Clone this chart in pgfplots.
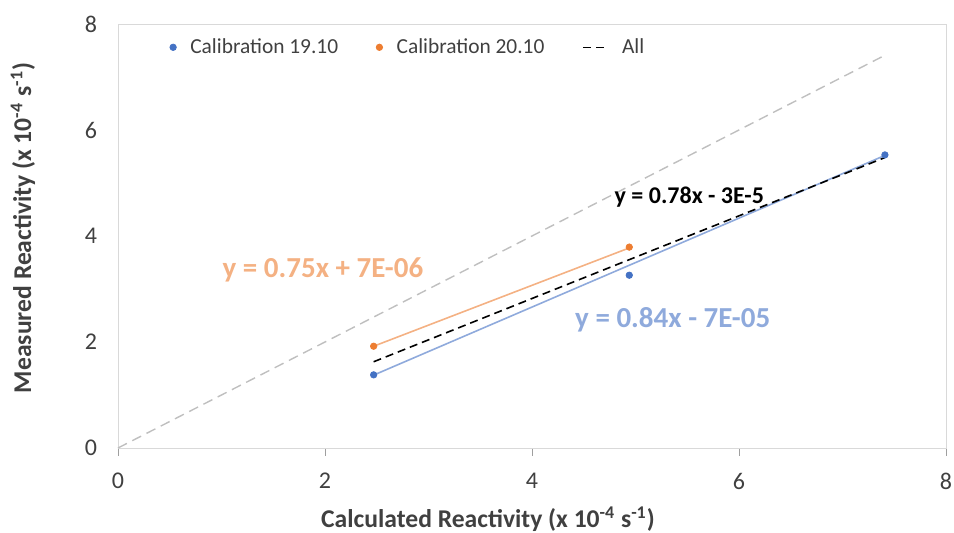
\documentclass[border=0pt]{standalone}
\usepackage{fontspec}
\setmainfont{Carlito}
\usepackage{pgfplots}
\pgfplotsset{compat=1.18}

\definecolor{calA}{HTML}{4472C4}
\definecolor{calB}{HTML}{ED7D31}
\definecolor{fitA}{HTML}{8FAADC}
\definecolor{fitB}{HTML}{F4B183}
\definecolor{ident}{HTML}{BFBFBF}
\definecolor{txt}{HTML}{404040}

\begin{document}
\begin{tikzpicture}
\begin{axis}[
    scale only axis,
    width=414pt, height=212pt,
    xmin=0, xmax=8, ymin=0, ymax=8,
    xtick={0,2,4,6,8}, ytick={0,2,4,6,8},
    axis x line*=bottom, axis y line*=left,
    x axis line style={-, gray!75},
    y axis line style={-, gray!40},
    tick align=outside,
    major tick length=4pt,
    xtick style={gray!75},
    ytick style={draw=none},
    /pgf/number format/assume math mode=true,
    tick label style={font=\fontsize{12}{14}\selectfont, text=txt},
    xticklabel style={yshift=-5pt},
    yticklabel style={xshift=-3pt},
    xlabel={\textbf{Calculated Reactivity (x 10\textsuperscript{-4} s\textsuperscript{-1})}},
    ylabel={\textbf{Measured Reactivity (x 10\textsuperscript{-4} s\textsuperscript{-1})}},
    label style={font=\fontsize{12.8}{14}\selectfont, text=txt},
    xlabel style={yshift=-2pt, xshift=-22pt},
    ylabel style={yshift=18pt, xshift=4pt},
    legend columns=3,
    legend style={draw=none, fill=none, at={(0.055,0.945)}, anchor=west,
        font=\fontsize{10.7}{13}\selectfont, text=txt,
        /tikz/every odd column/.append style={column sep=5pt},
        /tikz/every even column/.append style={column sep=17pt}},
    legend cell align=left,
    clip=false,
]
\coordinate (origin) at (rel axis cs:0,0);
% plot area border
\draw[gray!30] (rel axis cs:0,0) rectangle (rel axis cs:1,1);

% identity line
\addplot[ident, dash pattern=on 5pt off 3pt, line width=0.7pt, forget plot]
    coordinates {(0,0) (7.41,7.41)};

% trend lines
\addplot[fitA, line width=0.8pt, forget plot] coordinates {(2.47,1.375) (7.41,5.52)};
\addplot[fitB, line width=0.8pt, forget plot] coordinates {(2.47,1.92) (4.94,3.775)};

% data
\addplot[only marks, mark=*, mark size=1.6pt, calA] coordinates {
    (2.47,1.38) (4.94,3.26) (7.41,5.53)};
\addlegendentry{Calibration 19.10}
\addplot[only marks, mark=*, mark size=1.6pt, calB] coordinates {
    (2.47,1.92) (4.94,3.79)};
\addlegendentry{Calibration 20.10}

% overall fit
\addplot[black, dash pattern=on 4pt off 2.5pt, line width=0.8pt,
    legend image code/.code={\draw[black, dash pattern=on 4pt off 2.5pt, line width=0.8pt] (0pt,0pt) -- (12pt,0pt);}]
    coordinates {(2.47,1.627) (7.41,5.48)};
\addlegendentry{All}

\node[font=\bfseries\fontsize{12}{14}\selectfont, black] at (axis cs:5.52,4.74) {y = 0.78x - 3E-5};
\node[font=\bfseries\fontsize{14.5}{16}\selectfont, fitB] at (axis cs:1.98,3.36) {y = 0.75x + 7E-06};
\node[font=\bfseries\fontsize{14.5}{16}\selectfont, fitA] at (axis cs:5.36,2.42) {y = 0.84x - 7E-05};
\end{axis}
\pgfresetboundingbox
\path[use as bounding box] ([shift={(-59pt,-42.5pt)}]origin) rectangle ++(477pt,266.5pt);
\end{tikzpicture}
\end{document}
